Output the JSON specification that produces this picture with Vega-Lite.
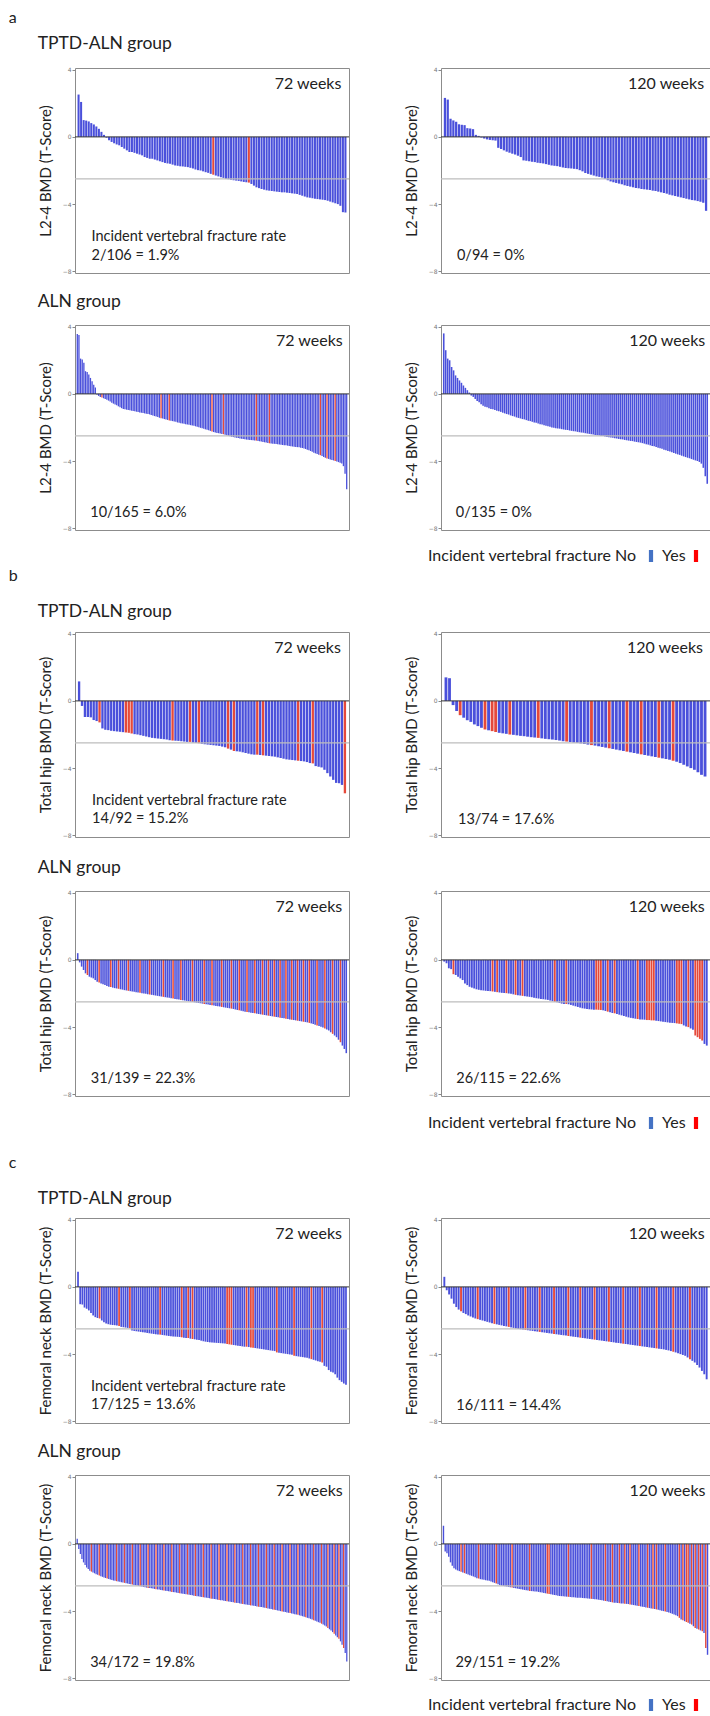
{
"$schema":"https://vega.github.io/schema/vega-lite/v6.json",
"background":"white",
"padding":{"left":8,"top":9,"right":0,"bottom":0},
"autosize":{"type":"pad"},
"spacing":2,
"config":{
"font":"Lato",
"view":{"stroke":"#8c8c8c","strokeWidth":1},
"axisY":{"labelFontSize":6,"labelColor":"#777","labelFont":"DejaVu Sans","tickColor":"#888","tickSize":3,"domain":false,"grid":false,"titleFontSize":15,"titleFontWeight":"normal","titleColor":"#222","titlePadding":9,"labelPadding":1,"titleFont":"Lato"},
"title":{"fontSize":17.5,"fontWeight":"normal","anchor":"start","color":"#222","font":"Lato","offset":12},
"text":{"font":"Lato","color":"#222"},
"legend":{"orient":"none","direction":"horizontal","titleOrient":"left","titleFontSize":16,"titleFontWeight":"normal","titleColor":"#222","titleFont":"Lato","titlePadding":6,"titleLimit":400,"labelFontSize":16,"labelColor":"#222","labelFont":"Lato","labelAlign":"left","labelOffset":3,"columnPadding":2,"symbolType":"M-0.35,-1H0.35V1H-0.35Z","symbolSize":144,"symbolOpacity":1,"symbolStrokeWidth":0}
},
"resolve":{"scale":{"x":"independent","color":"independent"},"legend":{"color":"independent"}},
"datasets":{
"one":[{}],
"a1":[{"i":1,"v":2.52},{"i":2,"v":2.08},{"i":3,"v":1.0},{"i":4,"v":0.97},{"i":5,"v":0.92},{"i":6,"v":0.82},{"i":7,"v":0.74},{"i":8,"v":0.62},{"i":9,"v":0.48},{"i":10,"v":0.3},{"i":11,"v":0.12},{"i":12,"v":-0.05},{"i":13,"v":-0.2},{"i":14,"v":-0.3},{"i":15,"v":-0.38},{"i":16,"v":-0.45},{"i":17,"v":-0.5},{"i":18,"v":-0.6},{"i":19,"v":-0.7},{"i":20,"v":-0.8},{"i":21,"v":-0.9},{"i":22,"v":-0.9},{"i":23,"v":-0.95},{"i":24,"v":-1.0},{"i":25,"v":-1.05},{"i":26,"v":-1.1},{"i":27,"v":-1.2},{"i":28,"v":-1.25},{"i":29,"v":-1.3},{"i":30,"v":-1.3},{"i":31,"v":-1.35},{"i":32,"v":-1.4},{"i":33,"v":-1.45},{"i":34,"v":-1.5},{"i":35,"v":-1.55},{"i":36,"v":-1.58},{"i":37,"v":-1.6},{"i":38,"v":-1.65},{"i":39,"v":-1.7},{"i":40,"v":-1.72},{"i":41,"v":-1.75},{"i":42,"v":-1.76},{"i":43,"v":-1.78},{"i":44,"v":-1.8},{"i":45,"v":-1.84},{"i":46,"v":-1.88},{"i":47,"v":-1.94},{"i":48,"v":-1.98},{"i":49,"v":-2.0},{"i":50,"v":-2.05},{"i":51,"v":-2.1},{"i":52,"v":-2.14},{"i":53,"v":-2.2},{"i":54,"v":-2.25,"f":1},{"i":55,"v":-2.3},{"i":56,"v":-2.35},{"i":57,"v":-2.4},{"i":58,"v":-2.44},{"i":59,"v":-2.5},{"i":60,"v":-2.52},{"i":61,"v":-2.55},{"i":62,"v":-2.58},{"i":63,"v":-2.6},{"i":64,"v":-2.62},{"i":65,"v":-2.65},{"i":66,"v":-2.68},{"i":67,"v":-2.7},{"i":68,"v":-2.72,"f":1},{"i":69,"v":-2.8},{"i":70,"v":-2.9},{"i":71,"v":-3.0},{"i":72,"v":-3.05},{"i":73,"v":-3.1},{"i":74,"v":-3.14},{"i":75,"v":-3.18},{"i":76,"v":-3.2},{"i":77,"v":-3.22},{"i":78,"v":-3.24},{"i":79,"v":-3.26},{"i":80,"v":-3.28},{"i":81,"v":-3.3},{"i":82,"v":-3.3},{"i":83,"v":-3.32},{"i":84,"v":-3.34},{"i":85,"v":-3.36},{"i":86,"v":-3.38},{"i":87,"v":-3.4},{"i":88,"v":-3.45},{"i":89,"v":-3.5},{"i":90,"v":-3.55},{"i":91,"v":-3.6},{"i":92,"v":-3.62},{"i":93,"v":-3.65},{"i":94,"v":-3.68},{"i":95,"v":-3.7},{"i":96,"v":-3.72},{"i":97,"v":-3.74},{"i":98,"v":-3.76},{"i":99,"v":-3.8},{"i":100,"v":-3.85},{"i":101,"v":-3.9},{"i":102,"v":-3.95},{"i":103,"v":-4.0},{"i":104,"v":-4.1},{"i":105,"v":-4.48},{"i":106,"v":-4.5}],
"a2":[{"i":1,"v":2.32},{"i":2,"v":2.22},{"i":3,"v":1.08},{"i":4,"v":0.98},{"i":5,"v":0.9},{"i":6,"v":0.75},{"i":7,"v":0.72},{"i":8,"v":0.7},{"i":9,"v":0.52},{"i":10,"v":0.5},{"i":11,"v":0.46},{"i":12,"v":0.12},{"i":13,"v":0.06},{"i":14,"v":-0.04},{"i":15,"v":-0.1},{"i":16,"v":-0.15},{"i":17,"v":-0.18},{"i":18,"v":-0.2},{"i":19,"v":-0.22},{"i":20,"v":-0.65},{"i":21,"v":-0.72},{"i":22,"v":-0.8},{"i":23,"v":-0.88},{"i":24,"v":-0.94},{"i":25,"v":-1.0},{"i":26,"v":-1.05},{"i":27,"v":-1.12},{"i":28,"v":-1.2},{"i":29,"v":-1.4},{"i":30,"v":-1.42},{"i":31,"v":-1.45},{"i":32,"v":-1.48},{"i":33,"v":-1.5},{"i":34,"v":-1.54},{"i":35,"v":-1.56},{"i":36,"v":-1.58},{"i":37,"v":-1.62},{"i":38,"v":-1.66},{"i":39,"v":-1.7},{"i":40,"v":-1.72},{"i":41,"v":-1.74},{"i":42,"v":-1.78},{"i":43,"v":-1.82},{"i":44,"v":-1.85},{"i":45,"v":-1.86},{"i":46,"v":-1.88},{"i":47,"v":-1.9},{"i":48,"v":-1.92},{"i":49,"v":-1.98},{"i":50,"v":-2.05},{"i":51,"v":-2.15},{"i":52,"v":-2.2},{"i":53,"v":-2.25},{"i":54,"v":-2.3},{"i":55,"v":-2.35},{"i":56,"v":-2.38},{"i":57,"v":-2.42},{"i":58,"v":-2.5},{"i":59,"v":-2.58},{"i":60,"v":-2.65},{"i":61,"v":-2.7},{"i":62,"v":-2.74},{"i":63,"v":-2.78},{"i":64,"v":-2.82},{"i":65,"v":-2.88},{"i":66,"v":-2.92},{"i":67,"v":-2.96},{"i":68,"v":-3.0},{"i":69,"v":-3.04},{"i":70,"v":-3.06},{"i":71,"v":-3.1},{"i":72,"v":-3.12},{"i":73,"v":-3.14},{"i":74,"v":-3.16},{"i":75,"v":-3.2},{"i":76,"v":-3.22},{"i":77,"v":-3.26},{"i":78,"v":-3.3},{"i":79,"v":-3.34},{"i":80,"v":-3.38},{"i":81,"v":-3.44},{"i":82,"v":-3.48},{"i":83,"v":-3.52},{"i":84,"v":-3.56},{"i":85,"v":-3.6},{"i":86,"v":-3.64},{"i":87,"v":-3.68},{"i":88,"v":-3.72},{"i":89,"v":-3.76},{"i":90,"v":-3.78},{"i":91,"v":-3.82},{"i":92,"v":-3.86},{"i":93,"v":-3.92},{"i":94,"v":-4.4}],
"a3":[{"i":1,"v":3.56},{"i":2,"v":3.5},{"i":3,"v":2.1},{"i":4,"v":2.05},{"i":5,"v":1.85},{"i":6,"v":1.35},{"i":7,"v":1.3},{"i":8,"v":1.15},{"i":9,"v":0.95},{"i":10,"v":0.75},{"i":11,"v":0.55},{"i":12,"v":0.38},{"i":13,"v":-0.05},{"i":14,"v":-0.12},{"i":15,"v":-0.18},{"i":16,"v":-0.22,"f":1},{"i":17,"v":-0.26},{"i":18,"v":-0.3},{"i":19,"v":-0.35},{"i":20,"v":-0.4},{"i":21,"v":-0.46},{"i":22,"v":-0.52},{"i":23,"v":-0.58},{"i":24,"v":-0.63},{"i":25,"v":-0.68},{"i":26,"v":-0.74},{"i":27,"v":-0.8},{"i":28,"v":-0.85},{"i":29,"v":-0.9},{"i":30,"v":-0.92},{"i":31,"v":-0.94},{"i":32,"v":-0.96},{"i":33,"v":-0.98},{"i":34,"v":-1.0},{"i":35,"v":-1.02},{"i":36,"v":-1.04},{"i":37,"v":-1.06},{"i":38,"v":-1.08},{"i":39,"v":-1.1},{"i":40,"v":-1.12},{"i":41,"v":-1.14},{"i":42,"v":-1.16},{"i":43,"v":-1.18},{"i":44,"v":-1.2},{"i":45,"v":-1.22},{"i":46,"v":-1.25},{"i":47,"v":-1.28},{"i":48,"v":-1.32},{"i":49,"v":-1.35},{"i":50,"v":-1.38},{"i":51,"v":-1.42},{"i":52,"v":-1.45,"f":1},{"i":53,"v":-1.47},{"i":54,"v":-1.5},{"i":55,"v":-1.52},{"i":56,"v":-1.55},{"i":57,"v":-1.58,"f":1},{"i":58,"v":-1.6},{"i":59,"v":-1.62},{"i":60,"v":-1.64},{"i":61,"v":-1.66},{"i":62,"v":-1.7},{"i":63,"v":-1.72},{"i":64,"v":-1.74},{"i":65,"v":-1.76},{"i":66,"v":-1.78},{"i":67,"v":-1.8},{"i":68,"v":-1.82},{"i":69,"v":-1.84},{"i":70,"v":-1.86},{"i":71,"v":-1.88},{"i":72,"v":-1.9},{"i":73,"v":-1.93},{"i":74,"v":-1.96},{"i":75,"v":-1.99},{"i":76,"v":-2.02},{"i":77,"v":-2.05},{"i":78,"v":-2.08},{"i":79,"v":-2.11},{"i":80,"v":-2.14},{"i":81,"v":-2.17},{"i":82,"v":-2.2},{"i":83,"v":-2.24,"f":1},{"i":84,"v":-2.27},{"i":85,"v":-2.3},{"i":86,"v":-2.32},{"i":87,"v":-2.34},{"i":88,"v":-2.36},{"i":89,"v":-2.38},{"i":90,"v":-2.4,"f":1},{"i":91,"v":-2.43},{"i":92,"v":-2.46},{"i":93,"v":-2.49},{"i":94,"v":-2.52},{"i":95,"v":-2.55},{"i":96,"v":-2.57},{"i":97,"v":-2.59},{"i":98,"v":-2.61},{"i":99,"v":-2.63},{"i":100,"v":-2.65},{"i":101,"v":-2.67},{"i":102,"v":-2.69},{"i":103,"v":-2.7},{"i":104,"v":-2.72},{"i":105,"v":-2.73},{"i":106,"v":-2.74},{"i":107,"v":-2.75},{"i":108,"v":-2.76},{"i":109,"v":-2.77},{"i":110,"v":-2.78,"f":1},{"i":111,"v":-2.8},{"i":112,"v":-2.82},{"i":113,"v":-2.84},{"i":114,"v":-2.86},{"i":115,"v":-2.88},{"i":116,"v":-2.9},{"i":117,"v":-2.92},{"i":118,"v":-2.94,"f":1},{"i":119,"v":-2.95},{"i":120,"v":-2.96},{"i":121,"v":-2.97},{"i":122,"v":-2.98},{"i":123,"v":-3.0},{"i":124,"v":-3.01},{"i":125,"v":-3.02},{"i":126,"v":-3.04},{"i":127,"v":-3.05},{"i":128,"v":-3.06},{"i":129,"v":-3.08},{"i":130,"v":-3.1},{"i":131,"v":-3.12},{"i":132,"v":-3.13},{"i":133,"v":-3.14},{"i":134,"v":-3.16},{"i":135,"v":-3.17},{"i":136,"v":-3.18},{"i":137,"v":-3.2},{"i":138,"v":-3.22},{"i":139,"v":-3.25},{"i":140,"v":-3.28},{"i":141,"v":-3.32},{"i":142,"v":-3.36},{"i":143,"v":-3.4},{"i":144,"v":-3.45},{"i":145,"v":-3.5},{"i":146,"v":-3.54},{"i":147,"v":-3.58},{"i":148,"v":-3.62},{"i":149,"v":-3.65,"f":1},{"i":150,"v":-3.7},{"i":151,"v":-3.75},{"i":152,"v":-3.8},{"i":153,"v":-3.84,"f":1},{"i":154,"v":-3.87},{"i":155,"v":-3.9},{"i":156,"v":-3.93},{"i":157,"v":-3.96},{"i":158,"v":-4.0,"f":1},{"i":159,"v":-4.03},{"i":160,"v":-4.06},{"i":161,"v":-4.1},{"i":162,"v":-4.14},{"i":163,"v":-4.3},{"i":164,"v":-4.75},{"i":165,"v":-5.68}],
"a4":[{"i":1,"v":3.6},{"i":2,"v":2.6},{"i":3,"v":2.1},{"i":4,"v":2.0},{"i":5,"v":1.6},{"i":6,"v":1.4},{"i":7,"v":1.1},{"i":8,"v":0.95},{"i":9,"v":0.8},{"i":10,"v":0.66},{"i":11,"v":0.5},{"i":12,"v":0.36},{"i":13,"v":0.22},{"i":14,"v":0.08},{"i":15,"v":-0.1},{"i":16,"v":-0.18},{"i":17,"v":-0.3},{"i":18,"v":-0.42},{"i":19,"v":-0.5},{"i":20,"v":-0.62},{"i":21,"v":-0.7},{"i":22,"v":-0.76},{"i":23,"v":-0.8},{"i":24,"v":-0.86},{"i":25,"v":-0.9},{"i":26,"v":-0.92},{"i":27,"v":-0.96},{"i":28,"v":-1.0},{"i":29,"v":-1.04},{"i":30,"v":-1.07},{"i":31,"v":-1.12},{"i":32,"v":-1.16},{"i":33,"v":-1.2},{"i":34,"v":-1.23},{"i":35,"v":-1.28},{"i":36,"v":-1.32},{"i":37,"v":-1.35},{"i":38,"v":-1.4},{"i":39,"v":-1.43},{"i":40,"v":-1.46},{"i":41,"v":-1.5},{"i":42,"v":-1.52},{"i":43,"v":-1.56},{"i":44,"v":-1.6},{"i":45,"v":-1.62},{"i":46,"v":-1.66},{"i":47,"v":-1.7},{"i":48,"v":-1.72},{"i":49,"v":-1.76},{"i":50,"v":-1.8},{"i":51,"v":-1.82},{"i":52,"v":-1.86},{"i":53,"v":-1.9},{"i":54,"v":-1.92},{"i":55,"v":-1.96},{"i":56,"v":-2.0},{"i":57,"v":-2.01},{"i":58,"v":-2.04},{"i":59,"v":-2.06},{"i":60,"v":-2.07},{"i":61,"v":-2.1},{"i":62,"v":-2.12},{"i":63,"v":-2.14},{"i":64,"v":-2.15},{"i":65,"v":-2.18},{"i":66,"v":-2.2},{"i":67,"v":-2.22},{"i":68,"v":-2.23},{"i":69,"v":-2.26},{"i":70,"v":-2.28},{"i":71,"v":-2.3},{"i":72,"v":-2.31},{"i":73,"v":-2.34},{"i":74,"v":-2.36},{"i":75,"v":-2.38},{"i":76,"v":-2.4},{"i":77,"v":-2.41},{"i":78,"v":-2.44},{"i":79,"v":-2.46},{"i":80,"v":-2.48},{"i":81,"v":-2.5},{"i":82,"v":-2.51},{"i":83,"v":-2.54},{"i":84,"v":-2.56},{"i":85,"v":-2.58},{"i":86,"v":-2.6},{"i":87,"v":-2.61},{"i":88,"v":-2.64},{"i":89,"v":-2.66},{"i":90,"v":-2.68},{"i":91,"v":-2.7},{"i":92,"v":-2.71},{"i":93,"v":-2.74},{"i":94,"v":-2.76},{"i":95,"v":-2.78},{"i":96,"v":-2.8},{"i":97,"v":-2.81},{"i":98,"v":-2.84},{"i":99,"v":-2.86},{"i":100,"v":-2.88},{"i":101,"v":-2.9},{"i":102,"v":-2.93},{"i":103,"v":-2.96},{"i":104,"v":-3.0},{"i":105,"v":-3.02},{"i":106,"v":-3.06},{"i":107,"v":-3.1},{"i":108,"v":-3.12},{"i":109,"v":-3.16},{"i":110,"v":-3.2},{"i":111,"v":-3.24},{"i":112,"v":-3.27},{"i":113,"v":-3.32},{"i":114,"v":-3.36},{"i":115,"v":-3.4},{"i":116,"v":-3.43},{"i":117,"v":-3.48},{"i":118,"v":-3.52},{"i":119,"v":-3.56},{"i":120,"v":-3.6},{"i":121,"v":-3.63},{"i":122,"v":-3.68},{"i":123,"v":-3.72},{"i":124,"v":-3.76},{"i":125,"v":-3.8},{"i":126,"v":-3.83},{"i":127,"v":-3.88},{"i":128,"v":-3.92},{"i":129,"v":-3.96},{"i":130,"v":-4.0},{"i":131,"v":-4.05},{"i":132,"v":-4.15},{"i":133,"v":-4.4},{"i":134,"v":-4.9},{"i":135,"v":-5.35}],
"b1":[{"i":1,"v":1.16},{"i":2,"v":-0.3},{"i":3,"v":-0.96},{"i":4,"v":-0.96},{"i":5,"v":-0.98},{"i":6,"v":-1.14},{"i":7,"v":-1.2},{"i":8,"v":-1.28,"f":1},{"i":9,"v":-1.64},{"i":10,"v":-1.72},{"i":11,"v":-1.74},{"i":12,"v":-1.78},{"i":13,"v":-1.8},{"i":14,"v":-1.82},{"i":15,"v":-1.84},{"i":16,"v":-1.86},{"i":17,"v":-1.88,"f":1},{"i":18,"v":-1.9,"f":1},{"i":19,"v":-1.94,"f":1},{"i":20,"v":-1.98},{"i":21,"v":-2.0},{"i":22,"v":-2.04},{"i":23,"v":-2.08},{"i":24,"v":-2.12},{"i":25,"v":-2.16},{"i":26,"v":-2.2},{"i":27,"v":-2.22},{"i":28,"v":-2.24},{"i":29,"v":-2.26},{"i":30,"v":-2.28},{"i":31,"v":-2.3},{"i":32,"v":-2.34},{"i":33,"v":-2.36,"f":1},{"i":34,"v":-2.37},{"i":35,"v":-2.38},{"i":36,"v":-2.4},{"i":37,"v":-2.42},{"i":38,"v":-2.44},{"i":39,"v":-2.44,"f":1},{"i":40,"v":-2.48},{"i":41,"v":-2.5},{"i":42,"v":-2.52,"f":1},{"i":43,"v":-2.55},{"i":44,"v":-2.58},{"i":45,"v":-2.6},{"i":46,"v":-2.62},{"i":47,"v":-2.64},{"i":48,"v":-2.66},{"i":49,"v":-2.68},{"i":50,"v":-2.72},{"i":51,"v":-2.76},{"i":52,"v":-2.84,"f":1},{"i":53,"v":-2.9},{"i":54,"v":-2.98,"f":1},{"i":55,"v":-3.0},{"i":56,"v":-3.02},{"i":57,"v":-3.06},{"i":58,"v":-3.1},{"i":59,"v":-3.14},{"i":60,"v":-3.18},{"i":61,"v":-3.2},{"i":62,"v":-3.2,"f":1},{"i":63,"v":-3.22},{"i":64,"v":-3.24,"f":1},{"i":65,"v":-3.26},{"i":66,"v":-3.28},{"i":67,"v":-3.3},{"i":68,"v":-3.32},{"i":69,"v":-3.36},{"i":70,"v":-3.4},{"i":71,"v":-3.44},{"i":72,"v":-3.48},{"i":73,"v":-3.5},{"i":74,"v":-3.52},{"i":75,"v":-3.54},{"i":76,"v":-3.56,"f":1},{"i":77,"v":-3.58},{"i":78,"v":-3.6},{"i":79,"v":-3.64},{"i":80,"v":-3.7},{"i":81,"v":-3.72,"f":1},{"i":82,"v":-3.88},{"i":83,"v":-3.92},{"i":84,"v":-3.96},{"i":85,"v":-4.1},{"i":86,"v":-4.3},{"i":87,"v":-4.5},{"i":88,"v":-4.7},{"i":89,"v":-4.88},{"i":90,"v":-4.9},{"i":91,"v":-5.0},{"i":92,"v":-5.5,"f":1}],
"b2":[{"i":1,"v":1.4},{"i":2,"v":1.35},{"i":3,"v":-0.25},{"i":4,"v":-0.6},{"i":5,"v":-0.85,"f":1},{"i":6,"v":-1.0},{"i":7,"v":-1.15},{"i":8,"v":-1.25},{"i":9,"v":-1.4},{"i":10,"v":-1.5},{"i":11,"v":-1.6},{"i":12,"v":-1.7,"f":1},{"i":13,"v":-1.75},{"i":14,"v":-1.8,"f":1},{"i":15,"v":-1.85,"f":1},{"i":16,"v":-1.9},{"i":17,"v":-1.93},{"i":18,"v":-1.96},{"i":19,"v":-2.0,"f":1},{"i":20,"v":-2.02},{"i":21,"v":-2.05},{"i":22,"v":-2.08},{"i":23,"v":-2.1},{"i":24,"v":-2.13},{"i":25,"v":-2.16},{"i":26,"v":-2.18},{"i":27,"v":-2.2,"f":1},{"i":28,"v":-2.23},{"i":29,"v":-2.26},{"i":30,"v":-2.28},{"i":31,"v":-2.3},{"i":32,"v":-2.33},{"i":33,"v":-2.36},{"i":34,"v":-2.4},{"i":35,"v":-2.42,"f":1},{"i":36,"v":-2.45},{"i":37,"v":-2.48},{"i":38,"v":-2.5},{"i":39,"v":-2.53},{"i":40,"v":-2.56},{"i":41,"v":-2.6},{"i":42,"v":-2.63,"f":1},{"i":43,"v":-2.66},{"i":44,"v":-2.7},{"i":45,"v":-2.74},{"i":46,"v":-2.78},{"i":47,"v":-2.82,"f":1},{"i":48,"v":-2.86},{"i":49,"v":-2.9},{"i":50,"v":-2.94},{"i":51,"v":-2.98},{"i":52,"v":-3.02,"f":1},{"i":53,"v":-3.06},{"i":54,"v":-3.1},{"i":55,"v":-3.14},{"i":56,"v":-3.18,"f":1},{"i":57,"v":-3.22},{"i":58,"v":-3.26},{"i":59,"v":-3.3},{"i":60,"v":-3.34},{"i":61,"v":-3.38,"f":1},{"i":62,"v":-3.42},{"i":63,"v":-3.46},{"i":64,"v":-3.5},{"i":65,"v":-3.56,"f":1},{"i":66,"v":-3.62},{"i":67,"v":-3.7},{"i":68,"v":-3.8},{"i":69,"v":-3.9},{"i":70,"v":-4.0},{"i":71,"v":-4.1},{"i":72,"v":-4.25},{"i":73,"v":-4.4},{"i":74,"v":-4.5}],
"b3":[{"i":1,"v":0.4},{"i":2,"v":-0.15},{"i":3,"v":-0.4},{"i":4,"v":-0.6},{"i":5,"v":-0.8},{"i":6,"v":-0.9,"f":1},{"i":7,"v":-1.0},{"i":8,"v":-1.05},{"i":9,"v":-1.1},{"i":10,"v":-1.2},{"i":11,"v":-1.3},{"i":12,"v":-1.35,"f":1},{"i":13,"v":-1.4},{"i":14,"v":-1.45},{"i":15,"v":-1.5},{"i":16,"v":-1.55},{"i":17,"v":-1.6},{"i":18,"v":-1.62,"f":1},{"i":19,"v":-1.65},{"i":20,"v":-1.68},{"i":21,"v":-1.7},{"i":22,"v":-1.72,"f":1},{"i":23,"v":-1.75},{"i":24,"v":-1.77},{"i":25,"v":-1.8},{"i":26,"v":-1.82},{"i":27,"v":-1.84,"f":1},{"i":28,"v":-1.86},{"i":29,"v":-1.88},{"i":30,"v":-1.9},{"i":31,"v":-1.92},{"i":32,"v":-1.94},{"i":33,"v":-1.96,"f":1},{"i":34,"v":-1.98},{"i":35,"v":-2.0},{"i":36,"v":-2.02},{"i":37,"v":-2.04},{"i":38,"v":-2.06,"f":1},{"i":39,"v":-2.08},{"i":40,"v":-2.1},{"i":41,"v":-2.12},{"i":42,"v":-2.14},{"i":43,"v":-2.16},{"i":44,"v":-2.18},{"i":45,"v":-2.2,"f":1},{"i":46,"v":-2.22},{"i":47,"v":-2.24},{"i":48,"v":-2.26},{"i":49,"v":-2.28},{"i":50,"v":-2.3,"f":1},{"i":51,"v":-2.32},{"i":52,"v":-2.34},{"i":53,"v":-2.36},{"i":54,"v":-2.38,"f":1},{"i":55,"v":-2.4},{"i":56,"v":-2.42},{"i":57,"v":-2.44},{"i":58,"v":-2.46},{"i":59,"v":-2.48},{"i":60,"v":-2.5,"f":1},{"i":61,"v":-2.52},{"i":62,"v":-2.54},{"i":63,"v":-2.56},{"i":64,"v":-2.58},{"i":65,"v":-2.6},{"i":66,"v":-2.62,"f":1},{"i":67,"v":-2.64},{"i":68,"v":-2.66},{"i":69,"v":-2.68},{"i":70,"v":-2.7,"f":1},{"i":71,"v":-2.72},{"i":72,"v":-2.74},{"i":73,"v":-2.76},{"i":74,"v":-2.78},{"i":75,"v":-2.8,"f":1},{"i":76,"v":-2.82},{"i":77,"v":-2.84},{"i":78,"v":-2.86},{"i":79,"v":-2.88},{"i":80,"v":-2.9,"f":1},{"i":81,"v":-2.92},{"i":82,"v":-2.95},{"i":83,"v":-2.98},{"i":84,"v":-3.0,"f":1},{"i":85,"v":-3.02},{"i":86,"v":-3.05},{"i":87,"v":-3.08},{"i":88,"v":-3.1,"f":1},{"i":89,"v":-3.12},{"i":90,"v":-3.14},{"i":91,"v":-3.16},{"i":92,"v":-3.18,"f":1},{"i":93,"v":-3.2},{"i":94,"v":-3.22},{"i":95,"v":-3.24},{"i":96,"v":-3.26,"f":1},{"i":97,"v":-3.28},{"i":98,"v":-3.3},{"i":99,"v":-3.32,"f":1},{"i":100,"v":-3.34},{"i":101,"v":-3.36},{"i":102,"v":-3.38,"f":1},{"i":103,"v":-3.4},{"i":104,"v":-3.42},{"i":105,"v":-3.44,"f":1},{"i":106,"v":-3.46},{"i":107,"v":-3.48},{"i":108,"v":-3.5,"f":1},{"i":109,"v":-3.52},{"i":110,"v":-3.54},{"i":111,"v":-3.56,"f":1},{"i":112,"v":-3.58},{"i":113,"v":-3.6},{"i":114,"v":-3.62,"f":1},{"i":115,"v":-3.64},{"i":116,"v":-3.66},{"i":117,"v":-3.68,"f":1},{"i":118,"v":-3.7},{"i":119,"v":-3.72},{"i":120,"v":-3.75,"f":1},{"i":121,"v":-3.78},{"i":122,"v":-3.82},{"i":123,"v":-3.86},{"i":124,"v":-3.9,"f":1},{"i":125,"v":-3.94},{"i":126,"v":-3.98},{"i":127,"v":-4.02},{"i":128,"v":-4.08,"f":1},{"i":129,"v":-4.14},{"i":130,"v":-4.2},{"i":131,"v":-4.3},{"i":132,"v":-4.4,"f":1},{"i":133,"v":-4.5},{"i":134,"v":-4.6},{"i":135,"v":-4.75},{"i":136,"v":-4.9,"f":1},{"i":137,"v":-5.1},{"i":138,"v":-5.3},{"i":139,"v":-5.55}],
"b4":[{"i":1,"v":-0.1},{"i":2,"v":-0.2},{"i":3,"v":-0.5},{"i":4,"v":-0.55},{"i":5,"v":-0.85,"f":1},{"i":6,"v":-0.9},{"i":7,"v":-1.0},{"i":8,"v":-1.1},{"i":9,"v":-1.2},{"i":10,"v":-1.4},{"i":11,"v":-1.5},{"i":12,"v":-1.6},{"i":13,"v":-1.65},{"i":14,"v":-1.7},{"i":15,"v":-1.75},{"i":16,"v":-1.78},{"i":17,"v":-1.8},{"i":18,"v":-1.82},{"i":19,"v":-1.84},{"i":20,"v":-1.85},{"i":21,"v":-1.86},{"i":22,"v":-1.88,"f":1},{"i":23,"v":-1.9},{"i":24,"v":-1.92,"f":1},{"i":25,"v":-1.94},{"i":26,"v":-1.96},{"i":27,"v":-1.97},{"i":28,"v":-1.98,"f":1},{"i":29,"v":-2.0},{"i":30,"v":-2.02},{"i":31,"v":-2.05},{"i":32,"v":-2.08,"f":1},{"i":33,"v":-2.1},{"i":34,"v":-2.12},{"i":35,"v":-2.14,"f":1},{"i":36,"v":-2.16},{"i":37,"v":-2.18},{"i":38,"v":-2.2},{"i":39,"v":-2.22},{"i":40,"v":-2.25},{"i":41,"v":-2.28},{"i":42,"v":-2.3},{"i":43,"v":-2.32},{"i":44,"v":-2.34},{"i":45,"v":-2.36},{"i":46,"v":-2.38},{"i":47,"v":-2.42},{"i":48,"v":-2.46},{"i":49,"v":-2.5,"f":1},{"i":50,"v":-2.52},{"i":51,"v":-2.56},{"i":52,"v":-2.6},{"i":53,"v":-2.62},{"i":54,"v":-2.62,"f":1},{"i":55,"v":-2.64},{"i":56,"v":-2.68},{"i":57,"v":-2.72},{"i":58,"v":-2.76},{"i":59,"v":-2.8},{"i":60,"v":-2.84},{"i":61,"v":-2.88},{"i":62,"v":-2.9},{"i":63,"v":-2.92},{"i":64,"v":-2.94},{"i":65,"v":-2.95},{"i":66,"v":-2.96},{"i":67,"v":-2.96,"f":1},{"i":68,"v":-2.97,"f":1},{"i":69,"v":-2.98,"f":1},{"i":70,"v":-3.0},{"i":71,"v":-3.04},{"i":72,"v":-3.08,"f":1},{"i":73,"v":-3.12},{"i":74,"v":-3.16},{"i":75,"v":-3.18,"f":1},{"i":76,"v":-3.22},{"i":77,"v":-3.26},{"i":78,"v":-3.3},{"i":79,"v":-3.34},{"i":80,"v":-3.38},{"i":81,"v":-3.42},{"i":82,"v":-3.45},{"i":83,"v":-3.48},{"i":84,"v":-3.5},{"i":85,"v":-3.52,"f":1},{"i":86,"v":-3.54},{"i":87,"v":-3.55},{"i":88,"v":-3.56},{"i":89,"v":-3.58,"f":1},{"i":90,"v":-3.58,"f":1},{"i":91,"v":-3.6,"f":1},{"i":92,"v":-3.6,"f":1},{"i":93,"v":-3.62},{"i":94,"v":-3.64},{"i":95,"v":-3.66},{"i":96,"v":-3.68},{"i":97,"v":-3.7},{"i":98,"v":-3.72},{"i":99,"v":-3.74},{"i":100,"v":-3.75},{"i":101,"v":-3.76},{"i":102,"v":-3.78,"f":1},{"i":103,"v":-3.8,"f":1},{"i":104,"v":-3.82,"f":1},{"i":105,"v":-3.9},{"i":106,"v":-3.96},{"i":107,"v":-4.0,"f":1},{"i":108,"v":-4.08},{"i":109,"v":-4.16},{"i":110,"v":-4.5,"f":1},{"i":111,"v":-4.6,"f":1},{"i":112,"v":-4.7,"f":1},{"i":113,"v":-4.8,"f":1},{"i":114,"v":-5.0},{"i":115,"v":-5.1}],
"c1":[{"i":1,"v":0.9},{"i":2,"v":-1.03},{"i":3,"v":-1.05},{"i":4,"v":-1.23},{"i":5,"v":-1.3},{"i":6,"v":-1.4},{"i":7,"v":-1.55},{"i":8,"v":-1.7},{"i":9,"v":-1.8},{"i":10,"v":-1.85},{"i":11,"v":-1.88,"f":1},{"i":12,"v":-2.0},{"i":13,"v":-2.1},{"i":14,"v":-2.18},{"i":15,"v":-2.22},{"i":16,"v":-2.25},{"i":17,"v":-2.27},{"i":18,"v":-2.28},{"i":19,"v":-2.3},{"i":20,"v":-2.32,"f":1},{"i":21,"v":-2.38},{"i":22,"v":-2.4},{"i":23,"v":-2.42},{"i":24,"v":-2.44},{"i":25,"v":-2.46,"f":1},{"i":26,"v":-2.6},{"i":27,"v":-2.62},{"i":28,"v":-2.64},{"i":29,"v":-2.66},{"i":30,"v":-2.68},{"i":31,"v":-2.7},{"i":32,"v":-2.72},{"i":33,"v":-2.74},{"i":34,"v":-2.76},{"i":35,"v":-2.78},{"i":36,"v":-2.8},{"i":37,"v":-2.82},{"i":38,"v":-2.84},{"i":39,"v":-2.84,"f":1},{"i":40,"v":-2.86},{"i":41,"v":-2.88},{"i":42,"v":-2.9},{"i":43,"v":-2.92},{"i":44,"v":-2.94},{"i":45,"v":-2.95},{"i":46,"v":-2.96},{"i":47,"v":-2.97},{"i":48,"v":-2.98},{"i":49,"v":-3.0,"f":1},{"i":50,"v":-3.02},{"i":51,"v":-3.04},{"i":52,"v":-3.04,"f":1},{"i":53,"v":-3.08},{"i":54,"v":-3.1,"f":1},{"i":55,"v":-3.12},{"i":56,"v":-3.14},{"i":57,"v":-3.16},{"i":58,"v":-3.2},{"i":59,"v":-3.24},{"i":60,"v":-3.26},{"i":61,"v":-3.28},{"i":62,"v":-3.3},{"i":63,"v":-3.31},{"i":64,"v":-3.32},{"i":65,"v":-3.33},{"i":66,"v":-3.34},{"i":67,"v":-3.35},{"i":68,"v":-3.36},{"i":69,"v":-3.37},{"i":70,"v":-3.4,"f":1},{"i":71,"v":-3.42,"f":1},{"i":72,"v":-3.44,"f":1},{"i":73,"v":-3.46},{"i":74,"v":-3.48},{"i":75,"v":-3.5},{"i":76,"v":-3.52},{"i":77,"v":-3.54},{"i":78,"v":-3.56},{"i":79,"v":-3.56,"f":1},{"i":80,"v":-3.58},{"i":81,"v":-3.6,"f":1},{"i":82,"v":-3.62,"f":1},{"i":83,"v":-3.64},{"i":84,"v":-3.66},{"i":85,"v":-3.68},{"i":86,"v":-3.7},{"i":87,"v":-3.72},{"i":88,"v":-3.74},{"i":89,"v":-3.76},{"i":90,"v":-3.78},{"i":91,"v":-3.8},{"i":92,"v":-3.82},{"i":93,"v":-3.9,"f":1},{"i":94,"v":-3.92},{"i":95,"v":-3.94},{"i":96,"v":-3.96},{"i":97,"v":-3.98},{"i":98,"v":-4.0},{"i":99,"v":-4.02},{"i":100,"v":-4.04},{"i":101,"v":-4.1,"f":1},{"i":102,"v":-4.12},{"i":103,"v":-4.14},{"i":104,"v":-4.16},{"i":105,"v":-4.18},{"i":106,"v":-4.2},{"i":107,"v":-4.22},{"i":108,"v":-4.26},{"i":109,"v":-4.3,"f":1},{"i":110,"v":-4.34},{"i":111,"v":-4.38},{"i":112,"v":-4.42},{"i":113,"v":-4.46},{"i":114,"v":-4.5,"f":1},{"i":115,"v":-4.7},{"i":116,"v":-4.75},{"i":117,"v":-4.95},{"i":118,"v":-5.05},{"i":119,"v":-5.1},{"i":120,"v":-5.2},{"i":121,"v":-5.4},{"i":122,"v":-5.55},{"i":123,"v":-5.65},{"i":124,"v":-5.75},{"i":125,"v":-5.82}],
"c2":[{"i":1,"v":0.6},{"i":2,"v":-0.2},{"i":3,"v":-0.45},{"i":4,"v":-0.7},{"i":5,"v":-1.0},{"i":6,"v":-1.2},{"i":7,"v":-1.35},{"i":8,"v":-1.45,"f":1},{"i":9,"v":-1.55},{"i":10,"v":-1.62},{"i":11,"v":-1.7},{"i":12,"v":-1.76},{"i":13,"v":-1.82},{"i":14,"v":-1.88},{"i":15,"v":-1.92,"f":1},{"i":16,"v":-1.96},{"i":17,"v":-2.0},{"i":18,"v":-2.04},{"i":19,"v":-2.08},{"i":20,"v":-2.12},{"i":21,"v":-2.16},{"i":22,"v":-2.2,"f":1},{"i":23,"v":-2.23},{"i":24,"v":-2.26},{"i":25,"v":-2.29},{"i":26,"v":-2.32},{"i":27,"v":-2.35},{"i":28,"v":-2.38,"f":1},{"i":29,"v":-2.41},{"i":30,"v":-2.44},{"i":31,"v":-2.47},{"i":32,"v":-2.5},{"i":33,"v":-2.52},{"i":34,"v":-2.54},{"i":35,"v":-2.56,"f":1},{"i":36,"v":-2.58},{"i":37,"v":-2.6},{"i":38,"v":-2.62},{"i":39,"v":-2.64},{"i":40,"v":-2.66},{"i":41,"v":-2.68,"f":1},{"i":42,"v":-2.7},{"i":43,"v":-2.72},{"i":44,"v":-2.74},{"i":45,"v":-2.76},{"i":46,"v":-2.78},{"i":47,"v":-2.8,"f":1},{"i":48,"v":-2.82},{"i":49,"v":-2.84},{"i":50,"v":-2.86},{"i":51,"v":-2.88},{"i":52,"v":-2.9},{"i":53,"v":-2.92,"f":1},{"i":54,"v":-2.94},{"i":55,"v":-2.96},{"i":56,"v":-2.98},{"i":57,"v":-3.0},{"i":58,"v":-3.02,"f":1},{"i":59,"v":-3.04},{"i":60,"v":-3.06},{"i":61,"v":-3.08},{"i":62,"v":-3.1},{"i":63,"v":-3.12},{"i":64,"v":-3.14,"f":1},{"i":65,"v":-3.16},{"i":66,"v":-3.18},{"i":67,"v":-3.2},{"i":68,"v":-3.22},{"i":69,"v":-3.24},{"i":70,"v":-3.26,"f":1},{"i":71,"v":-3.28},{"i":72,"v":-3.3},{"i":73,"v":-3.32},{"i":74,"v":-3.34},{"i":75,"v":-3.36},{"i":76,"v":-3.38,"f":1},{"i":77,"v":-3.4},{"i":78,"v":-3.42},{"i":79,"v":-3.44},{"i":80,"v":-3.46},{"i":81,"v":-3.48},{"i":82,"v":-3.5},{"i":83,"v":-3.52,"f":1},{"i":84,"v":-3.54},{"i":85,"v":-3.56},{"i":86,"v":-3.58},{"i":87,"v":-3.6},{"i":88,"v":-3.62},{"i":89,"v":-3.64},{"i":90,"v":-3.66,"f":1},{"i":91,"v":-3.68},{"i":92,"v":-3.7},{"i":93,"v":-3.72},{"i":94,"v":-3.75},{"i":95,"v":-3.78},{"i":96,"v":-3.82},{"i":97,"v":-3.86,"f":1},{"i":98,"v":-3.9},{"i":99,"v":-3.95},{"i":100,"v":-4.0},{"i":101,"v":-4.05},{"i":102,"v":-4.1},{"i":103,"v":-4.2},{"i":104,"v":-4.3,"f":1},{"i":105,"v":-4.4},{"i":106,"v":-4.5},{"i":107,"v":-4.65},{"i":108,"v":-4.8},{"i":109,"v":-5.0},{"i":110,"v":-5.2},{"i":111,"v":-5.5}],
"c3":[{"i":1,"v":0.3},{"i":2,"v":-0.3},{"i":3,"v":-0.6},{"i":4,"v":-0.9},{"i":5,"v":-1.1},{"i":6,"v":-1.25},{"i":7,"v":-1.4},{"i":8,"v":-1.5},{"i":9,"v":-1.6},{"i":10,"v":-1.65,"f":1},{"i":11,"v":-1.7},{"i":12,"v":-1.75},{"i":13,"v":-1.8},{"i":14,"v":-1.84},{"i":15,"v":-1.88,"f":1},{"i":16,"v":-1.92},{"i":17,"v":-1.96},{"i":18,"v":-2.0},{"i":19,"v":-2.03},{"i":20,"v":-2.06,"f":1},{"i":21,"v":-2.09},{"i":22,"v":-2.12},{"i":23,"v":-2.15},{"i":24,"v":-2.18},{"i":25,"v":-2.2},{"i":26,"v":-2.22,"f":1},{"i":27,"v":-2.24},{"i":28,"v":-2.26},{"i":29,"v":-2.28},{"i":30,"v":-2.3},{"i":31,"v":-2.32,"f":1},{"i":32,"v":-2.34},{"i":33,"v":-2.36},{"i":34,"v":-2.38},{"i":35,"v":-2.4},{"i":36,"v":-2.42,"f":1},{"i":37,"v":-2.44},{"i":38,"v":-2.46},{"i":39,"v":-2.48},{"i":40,"v":-2.5},{"i":41,"v":-2.52,"f":1},{"i":42,"v":-2.54},{"i":43,"v":-2.56},{"i":44,"v":-2.58},{"i":45,"v":-2.6},{"i":46,"v":-2.62,"f":1},{"i":47,"v":-2.63},{"i":48,"v":-2.64},{"i":49,"v":-2.66},{"i":50,"v":-2.68},{"i":51,"v":-2.7,"f":1},{"i":52,"v":-2.71},{"i":53,"v":-2.72},{"i":54,"v":-2.74},{"i":55,"v":-2.76},{"i":56,"v":-2.78,"f":1},{"i":57,"v":-2.79},{"i":58,"v":-2.8},{"i":59,"v":-2.82},{"i":60,"v":-2.84},{"i":61,"v":-2.86,"f":1},{"i":62,"v":-2.87},{"i":63,"v":-2.88},{"i":64,"v":-2.9},{"i":65,"v":-2.92},{"i":66,"v":-2.94,"f":1},{"i":67,"v":-2.95},{"i":68,"v":-2.96},{"i":69,"v":-2.98},{"i":70,"v":-3.0},{"i":71,"v":-3.01,"f":1},{"i":72,"v":-3.02},{"i":73,"v":-3.04},{"i":74,"v":-3.06},{"i":75,"v":-3.08},{"i":76,"v":-3.1,"f":1},{"i":77,"v":-3.11},{"i":78,"v":-3.12},{"i":79,"v":-3.14},{"i":80,"v":-3.16},{"i":81,"v":-3.18,"f":1},{"i":82,"v":-3.19},{"i":83,"v":-3.2},{"i":84,"v":-3.22},{"i":85,"v":-3.24},{"i":86,"v":-3.26,"f":1},{"i":87,"v":-3.27},{"i":88,"v":-3.28},{"i":89,"v":-3.3},{"i":90,"v":-3.32},{"i":91,"v":-3.34,"f":1},{"i":92,"v":-3.35},{"i":93,"v":-3.36},{"i":94,"v":-3.38},{"i":95,"v":-3.4},{"i":96,"v":-3.42,"f":1},{"i":97,"v":-3.43},{"i":98,"v":-3.44},{"i":99,"v":-3.46},{"i":100,"v":-3.48},{"i":101,"v":-3.5,"f":1},{"i":102,"v":-3.51},{"i":103,"v":-3.52},{"i":104,"v":-3.54},{"i":105,"v":-3.56},{"i":106,"v":-3.58,"f":1},{"i":107,"v":-3.59},{"i":108,"v":-3.6},{"i":109,"v":-3.62},{"i":110,"v":-3.64},{"i":111,"v":-3.66,"f":1},{"i":112,"v":-3.67},{"i":113,"v":-3.68},{"i":114,"v":-3.7},{"i":115,"v":-3.72},{"i":116,"v":-3.74,"f":1},{"i":117,"v":-3.75},{"i":118,"v":-3.76},{"i":119,"v":-3.78},{"i":120,"v":-3.8},{"i":121,"v":-3.82,"f":1},{"i":122,"v":-3.84},{"i":123,"v":-3.86},{"i":124,"v":-3.88},{"i":125,"v":-3.9},{"i":126,"v":-3.92,"f":1},{"i":127,"v":-3.94},{"i":128,"v":-3.96},{"i":129,"v":-3.98},{"i":130,"v":-4.0},{"i":131,"v":-4.02,"f":1},{"i":132,"v":-4.04},{"i":133,"v":-4.06},{"i":134,"v":-4.08},{"i":135,"v":-4.1},{"i":136,"v":-4.12,"f":1},{"i":137,"v":-4.14},{"i":138,"v":-4.16},{"i":139,"v":-4.18},{"i":140,"v":-4.2},{"i":141,"v":-4.22,"f":1},{"i":142,"v":-4.25},{"i":143,"v":-4.28},{"i":144,"v":-4.31},{"i":145,"v":-4.34},{"i":146,"v":-4.37,"f":1},{"i":147,"v":-4.4},{"i":148,"v":-4.43},{"i":149,"v":-4.46},{"i":150,"v":-4.5},{"i":151,"v":-4.54,"f":1},{"i":152,"v":-4.58},{"i":153,"v":-4.62},{"i":154,"v":-4.66},{"i":155,"v":-4.7},{"i":156,"v":-4.75,"f":1},{"i":157,"v":-4.8},{"i":158,"v":-4.86},{"i":159,"v":-4.92},{"i":160,"v":-5.0,"f":1},{"i":161,"v":-5.08},{"i":162,"v":-5.16},{"i":163,"v":-5.25},{"i":164,"v":-5.35,"f":1},{"i":165,"v":-5.45},{"i":166,"v":-5.55},{"i":167,"v":-5.65,"f":1},{"i":168,"v":-5.8},{"i":169,"v":-6.0},{"i":170,"v":-6.2,"f":1},{"i":171,"v":-6.5},{"i":172,"v":-7.0}],
"c4":[{"i":1,"v":1.08},{"i":2,"v":-0.46},{"i":3,"v":-0.55},{"i":4,"v":-0.76},{"i":5,"v":-1.1},{"i":6,"v":-1.3},{"i":7,"v":-1.45},{"i":8,"v":-1.52},{"i":9,"v":-1.58},{"i":10,"v":-1.62},{"i":11,"v":-1.66,"f":1},{"i":12,"v":-1.7},{"i":13,"v":-1.74,"f":1},{"i":14,"v":-1.78},{"i":15,"v":-1.82},{"i":16,"v":-1.86},{"i":17,"v":-1.9},{"i":18,"v":-1.94},{"i":19,"v":-1.98},{"i":20,"v":-2.04},{"i":21,"v":-2.06,"f":1},{"i":22,"v":-2.1},{"i":23,"v":-2.12},{"i":24,"v":-2.14},{"i":25,"v":-2.16},{"i":26,"v":-2.18},{"i":27,"v":-2.2},{"i":28,"v":-2.24},{"i":29,"v":-2.28},{"i":30,"v":-2.32},{"i":31,"v":-2.36,"f":1},{"i":32,"v":-2.4},{"i":33,"v":-2.44},{"i":34,"v":-2.48},{"i":35,"v":-2.5},{"i":36,"v":-2.52},{"i":37,"v":-2.54},{"i":38,"v":-2.56},{"i":39,"v":-2.58},{"i":40,"v":-2.6,"f":1},{"i":41,"v":-2.62},{"i":42,"v":-2.64},{"i":43,"v":-2.66},{"i":44,"v":-2.68},{"i":45,"v":-2.7},{"i":46,"v":-2.72},{"i":47,"v":-2.74},{"i":48,"v":-2.76},{"i":49,"v":-2.78},{"i":50,"v":-2.8,"f":1},{"i":51,"v":-2.81},{"i":52,"v":-2.82},{"i":53,"v":-2.83},{"i":54,"v":-2.84},{"i":55,"v":-2.86},{"i":56,"v":-2.88},{"i":57,"v":-2.9},{"i":58,"v":-2.92},{"i":59,"v":-2.94},{"i":60,"v":-2.96,"f":1},{"i":61,"v":-2.98,"f":1},{"i":62,"v":-3.0},{"i":63,"v":-3.02},{"i":64,"v":-3.04},{"i":65,"v":-3.06},{"i":66,"v":-3.08},{"i":67,"v":-3.1},{"i":68,"v":-3.11},{"i":69,"v":-3.12},{"i":70,"v":-3.13},{"i":71,"v":-3.14},{"i":72,"v":-3.15,"f":1},{"i":73,"v":-3.16},{"i":74,"v":-3.17},{"i":75,"v":-3.18},{"i":76,"v":-3.19},{"i":77,"v":-3.2},{"i":78,"v":-3.2},{"i":79,"v":-3.21},{"i":80,"v":-3.22},{"i":81,"v":-3.23},{"i":82,"v":-3.24},{"i":83,"v":-3.25},{"i":84,"v":-3.26},{"i":85,"v":-3.27,"f":1},{"i":86,"v":-3.28},{"i":87,"v":-3.29},{"i":88,"v":-3.3},{"i":89,"v":-3.32},{"i":90,"v":-3.34},{"i":91,"v":-3.36},{"i":92,"v":-3.38},{"i":93,"v":-3.4,"f":1},{"i":94,"v":-3.42},{"i":95,"v":-3.44},{"i":96,"v":-3.46},{"i":97,"v":-3.48,"f":1},{"i":98,"v":-3.5},{"i":99,"v":-3.51},{"i":100,"v":-3.52},{"i":101,"v":-3.53,"f":1},{"i":102,"v":-3.54},{"i":103,"v":-3.55},{"i":104,"v":-3.56,"f":1},{"i":105,"v":-3.57},{"i":106,"v":-3.58},{"i":107,"v":-3.6,"f":1},{"i":108,"v":-3.62},{"i":109,"v":-3.64},{"i":110,"v":-3.66},{"i":111,"v":-3.68},{"i":112,"v":-3.7,"f":1},{"i":113,"v":-3.72},{"i":114,"v":-3.74},{"i":115,"v":-3.76},{"i":116,"v":-3.78},{"i":117,"v":-3.8,"f":1},{"i":118,"v":-3.82},{"i":119,"v":-3.84},{"i":120,"v":-3.86,"f":1},{"i":121,"v":-3.88},{"i":122,"v":-3.9,"f":1},{"i":123,"v":-3.92},{"i":124,"v":-3.95},{"i":125,"v":-3.98},{"i":126,"v":-4.0},{"i":127,"v":-4.02,"f":1},{"i":128,"v":-4.05},{"i":129,"v":-4.08},{"i":130,"v":-4.12},{"i":131,"v":-4.16},{"i":132,"v":-4.2},{"i":133,"v":-4.25},{"i":134,"v":-4.3},{"i":135,"v":-4.4,"f":1},{"i":136,"v":-4.5},{"i":137,"v":-4.55,"f":1},{"i":138,"v":-4.6},{"i":139,"v":-4.65,"f":1},{"i":140,"v":-4.7,"f":1},{"i":141,"v":-4.75},{"i":142,"v":-4.8,"f":1},{"i":143,"v":-4.9},{"i":144,"v":-5.0,"f":1},{"i":145,"v":-5.05},{"i":146,"v":-5.1,"f":1},{"i":147,"v":-5.15},{"i":148,"v":-5.2,"f":1},{"i":149,"v":-5.3},{"i":150,"v":-6.2,"f":1},{"i":151,"v":-6.6}]
},
"vconcat":[
{"title":{"text":"a","fontSize":16,"dx":-29,"offset":9},"spacing":17,"resolve":{"scale":{"x":"independent","color":"independent"},"legend":{"color":"independent"}},
"vconcat":[
{"title":{"text":"TPTD-ALN group","offset":14},"spacing":52,"resolve":{"scale":{"x":"independent","color":"independent"},"legend":{"color":"independent"}},"hconcat":[
{"width":274,"height":205,"layer":[
{"data":{"name":"a1"},"mark":"bar","encoding":{"x":{"field":"i","type":"ordinal","axis":null,"scale":{"paddingInner":0.2,"paddingOuter":2}},"y":{"field":"v","type":"quantitative","scale":{"domain":[-8.1,4.1],"nice":false},"axis":{"title":"L2-4 BMD (T-Score)","values":[-8,-6,-4,-2,0,2,4]}},"color":{"condition":{"test":"datum.f==1","value":"#e5493a"},"value":"#4a50db"}}},
{"data":{"name":"one"},"mark":{"type":"rule","color":"#bdbdbd","strokeWidth":1.2},"encoding":{"y":{"datum":-2.5}}},
{"data":{"name":"one"},"mark":{"type":"rule","color":"#333","strokeWidth":1},"encoding":{"y":{"datum":0}}},
{"data":{"name":"one"},"mark":{"type":"text","align":"right","baseline":"alphabetic","fontSize":16,"dx":-4},"encoding":{"x":{"datum":106,"type":"ordinal"},"y":{"datum":2.85},"text":{"value":"72 weeks"}}},
{"data":{"name":"one"},"mark":{"type":"text","align":"left","baseline":"middle","fontSize":14.5,"dx":13},"encoding":{"x":{"datum":1,"type":"ordinal"},"y":{"datum":-5.95},"text":{"value":"Incident vertebral fracture rate"}}},
{"data":{"name":"one"},"mark":{"type":"text","align":"left","baseline":"middle","fontSize":14.5,"dx":13},"encoding":{"x":{"datum":1,"type":"ordinal"},"y":{"datum":-7.1},"text":{"value":"2/106 = 1.9%"}}}
]},
{"width":269,"height":205,"layer":[
{"data":{"name":"a2"},"mark":"bar","encoding":{"x":{"field":"i","type":"ordinal","axis":null,"scale":{"paddingInner":0.2,"paddingOuter":1.3}},"y":{"field":"v","type":"quantitative","scale":{"domain":[-8.1,4.1],"nice":false},"axis":{"title":"L2-4 BMD (T-Score)","values":[-8,-6,-4,-2,0,2,4]}},"color":{"condition":{"test":"datum.f==1","value":"#e5493a"},"value":"#4a50db"}}},
{"data":{"name":"one"},"mark":{"type":"rule","color":"#bdbdbd","strokeWidth":1.2},"encoding":{"y":{"datum":-2.5}}},
{"data":{"name":"one"},"mark":{"type":"rule","color":"#333","strokeWidth":1},"encoding":{"y":{"datum":0}}},
{"data":{"name":"one"},"mark":{"type":"text","align":"right","baseline":"alphabetic","fontSize":16,"dx":-2},"encoding":{"x":{"datum":94,"type":"ordinal"},"y":{"datum":2.85},"text":{"value":"120 weeks"}}},
{"data":{"name":"one"},"mark":{"type":"text","align":"left","baseline":"middle","fontSize":14.5,"dx":12},"encoding":{"x":{"datum":1,"type":"ordinal"},"y":{"datum":-7.1},"text":{"value":"0/94 = 0%"}}}
]}
]},
{"title":{"text":"ALN group","offset":13},"spacing":52,"resolve":{"scale":{"x":"independent","color":"independent"},"legend":{"color":"independent"}},"hconcat":[
{"width":274,"height":205,"layer":[
{"data":{"name":"a3"},"mark":"bar","encoding":{"x":{"field":"i","type":"ordinal","axis":null,"scale":{"paddingInner":0.2,"paddingOuter":3.1}},"y":{"field":"v","type":"quantitative","scale":{"domain":[-8.1,4.1],"nice":false},"axis":{"title":"L2-4 BMD (T-Score)","values":[-8,-6,-4,-2,0,2,4]}},"color":{"condition":{"test":"datum.f==1","value":"#e5493a"},"value":"#4a50db"}}},
{"data":{"name":"one"},"mark":{"type":"rule","color":"#bdbdbd","strokeWidth":1.2},"encoding":{"y":{"datum":-2.5}}},
{"data":{"name":"one"},"mark":{"type":"rule","color":"#333","strokeWidth":1},"encoding":{"y":{"datum":0}}},
{"data":{"name":"one"},"mark":{"type":"text","align":"right","baseline":"alphabetic","fontSize":16,"dx":-4},"encoding":{"x":{"datum":165,"type":"ordinal"},"y":{"datum":2.85},"text":{"value":"72 weeks"}}},
{"data":{"name":"one"},"mark":{"type":"text","align":"left","baseline":"middle","fontSize":14.5,"dx":13},"encoding":{"x":{"datum":1,"type":"ordinal"},"y":{"datum":-7.1},"text":{"value":"10/165 = 6.0%"}}}
]},
{"width":269,"height":205,"layer":[
{"data":{"name":"a4"},"mark":"bar","encoding":{"x":{"field":"i","type":"ordinal","axis":null,"scale":{"paddingInner":0.2,"paddingOuter":1.5}},"y":{"field":"v","type":"quantitative","scale":{"domain":[-8.1,4.1],"nice":false},"axis":{"title":"L2-4 BMD (T-Score)","values":[-8,-6,-4,-2,0,2,4]}},"color":{"condition":{"test":"datum.f==1","value":"#e5493a"},"value":"#4a50db"}}},
{"data":{"name":"one"},"mark":{"type":"rule","color":"#bdbdbd","strokeWidth":1.2},"encoding":{"y":{"datum":-2.5}}},
{"data":{"name":"one"},"mark":{"type":"rule","color":"#333","strokeWidth":1},"encoding":{"y":{"datum":0}}},
{"data":{"name":"one"},"mark":{"type":"text","align":"right","baseline":"alphabetic","fontSize":16,"dx":-2},"encoding":{"x":{"datum":135,"type":"ordinal"},"y":{"datum":2.85},"text":{"value":"120 weeks"}}},
{"data":{"name":"one"},"mark":{"type":"text","align":"left","baseline":"middle","fontSize":14.5,"dx":12},"encoding":{"x":{"datum":1,"type":"ordinal"},"y":{"datum":-7.1},"text":{"value":"0/135 = 0%"}}},
{"data":{"values":[{"k":"No"},{"k":"Yes"}]},"mark":{"type":"point","filled":true,"opacity":0},"encoding":{"color":{"field":"k","type":"nominal","scale":{"domain":["No","Yes"],"range":["#4472c4","#ff0000"]},"legend":{"legendX":-13,"legendY":223,"padding":0,"title":"Incident vertebral fracture No","labelExpr":"datum.label == 'No' ? 'Yes' : ''"}}}}
]}
]}
]},
{"title":{"text":"b","fontSize":16,"dx":-29,"offset":19},"spacing":19,"resolve":{"scale":{"x":"independent","color":"independent"},"legend":{"color":"independent"}},
"vconcat":[
{"title":{"text":"TPTD-ALN group","offset":10},"spacing":52,"resolve":{"scale":{"x":"independent","color":"independent"},"legend":{"color":"independent"}},"hconcat":[
{"width":274,"height":205,"layer":[
{"data":{"name":"b1"},"mark":"bar","encoding":{"x":{"field":"i","type":"ordinal","axis":null,"scale":{"paddingInner":0.2,"paddingOuter":1.7}},"y":{"field":"v","type":"quantitative","scale":{"domain":[-8.1,4.1],"nice":false},"axis":{"title":"Total hip BMD (T-Score)","values":[-8,-6,-4,-2,0,2,4]}},"color":{"condition":{"test":"datum.f==1","value":"#e5493a"},"value":"#4a50db"}}},
{"data":{"name":"one"},"mark":{"type":"rule","color":"#bdbdbd","strokeWidth":1.2},"encoding":{"y":{"datum":-2.5}}},
{"data":{"name":"one"},"mark":{"type":"rule","color":"#333","strokeWidth":1},"encoding":{"y":{"datum":0}}},
{"data":{"name":"one"},"mark":{"type":"text","align":"right","baseline":"alphabetic","fontSize":16,"dx":-4},"encoding":{"x":{"datum":92,"type":"ordinal"},"y":{"datum":2.85},"text":{"value":"72 weeks"}}},
{"data":{"name":"one"},"mark":{"type":"text","align":"left","baseline":"middle","fontSize":14.5,"dx":13},"encoding":{"x":{"datum":1,"type":"ordinal"},"y":{"datum":-5.95},"text":{"value":"Incident vertebral fracture rate"}}},
{"data":{"name":"one"},"mark":{"type":"text","align":"left","baseline":"middle","fontSize":14.5,"dx":13},"encoding":{"x":{"datum":1,"type":"ordinal"},"y":{"datum":-7.0},"text":{"value":"14/92 = 15.2%"}}}
]},
{"width":269,"height":205,"layer":[
{"data":{"name":"b2"},"mark":"bar","encoding":{"x":{"field":"i","type":"ordinal","axis":null,"scale":{"paddingInner":0.2,"paddingOuter":1.2}},"y":{"field":"v","type":"quantitative","scale":{"domain":[-8.1,4.1],"nice":false},"axis":{"title":"Total hip BMD (T-Score)","values":[-8,-6,-4,-2,0,2,4]}},"color":{"condition":{"test":"datum.f==1","value":"#e5493a"},"value":"#4a50db"}}},
{"data":{"name":"one"},"mark":{"type":"rule","color":"#bdbdbd","strokeWidth":1.2},"encoding":{"y":{"datum":-2.5}}},
{"data":{"name":"one"},"mark":{"type":"rule","color":"#333","strokeWidth":1},"encoding":{"y":{"datum":0}}},
{"data":{"name":"one"},"mark":{"type":"text","align":"right","baseline":"alphabetic","fontSize":16,"dx":-2},"encoding":{"x":{"datum":74,"type":"ordinal"},"y":{"datum":2.85},"text":{"value":"120 weeks"}}},
{"data":{"name":"one"},"mark":{"type":"text","align":"left","baseline":"middle","fontSize":14.5,"dx":12},"encoding":{"x":{"datum":1,"type":"ordinal"},"y":{"datum":-7.1},"text":{"value":"13/74 = 17.6%"}}}
]}
]},
{"title":{"text":"ALN group","offset":13},"spacing":52,"resolve":{"scale":{"x":"independent","color":"independent"},"legend":{"color":"independent"}},"hconcat":[
{"width":274,"height":205,"layer":[
{"data":{"name":"b3"},"mark":"bar","encoding":{"x":{"field":"i","type":"ordinal","axis":null,"scale":{"paddingInner":0.2,"paddingOuter":2.6}},"y":{"field":"v","type":"quantitative","scale":{"domain":[-8.1,4.1],"nice":false},"axis":{"title":"Total hip BMD (T-Score)","values":[-8,-6,-4,-2,0,2,4]}},"color":{"condition":{"test":"datum.f==1","value":"#e5493a"},"value":"#4a50db"}}},
{"data":{"name":"one"},"mark":{"type":"rule","color":"#bdbdbd","strokeWidth":1.2},"encoding":{"y":{"datum":-2.5}}},
{"data":{"name":"one"},"mark":{"type":"rule","color":"#333","strokeWidth":1},"encoding":{"y":{"datum":0}}},
{"data":{"name":"one"},"mark":{"type":"text","align":"right","baseline":"alphabetic","fontSize":16,"dx":-4},"encoding":{"x":{"datum":139,"type":"ordinal"},"y":{"datum":2.85},"text":{"value":"72 weeks"}}},
{"data":{"name":"one"},"mark":{"type":"text","align":"left","baseline":"middle","fontSize":14.5,"dx":13},"encoding":{"x":{"datum":1,"type":"ordinal"},"y":{"datum":-7.1},"text":{"value":"31/139 = 22.3%"}}}
]},
{"width":269,"height":205,"layer":[
{"data":{"name":"b4"},"mark":"bar","encoding":{"x":{"field":"i","type":"ordinal","axis":null,"scale":{"paddingInner":0.2,"paddingOuter":1.3}},"y":{"field":"v","type":"quantitative","scale":{"domain":[-8.1,4.1],"nice":false},"axis":{"title":"Total hip BMD (T-Score)","values":[-8,-6,-4,-2,0,2,4]}},"color":{"condition":{"test":"datum.f==1","value":"#e5493a"},"value":"#4a50db"}}},
{"data":{"name":"one"},"mark":{"type":"rule","color":"#bdbdbd","strokeWidth":1.2},"encoding":{"y":{"datum":-2.5}}},
{"data":{"name":"one"},"mark":{"type":"rule","color":"#333","strokeWidth":1},"encoding":{"y":{"datum":0}}},
{"data":{"name":"one"},"mark":{"type":"text","align":"right","baseline":"alphabetic","fontSize":16,"dx":-2},"encoding":{"x":{"datum":115,"type":"ordinal"},"y":{"datum":2.85},"text":{"value":"120 weeks"}}},
{"data":{"name":"one"},"mark":{"type":"text","align":"left","baseline":"middle","fontSize":14.5,"dx":12},"encoding":{"x":{"datum":1,"type":"ordinal"},"y":{"datum":-7.1},"text":{"value":"26/115 = 22.6%"}}},
{"data":{"values":[{"k":"No"},{"k":"Yes"}]},"mark":{"type":"point","filled":true,"opacity":0},"encoding":{"color":{"field":"k","type":"nominal","scale":{"domain":["No","Yes"],"range":["#4472c4","#ff0000"]},"legend":{"legendX":-33,"legendY":204,"padding":20,"title":"Incident vertebral fracture No","labelExpr":"datum.label == 'No' ? 'Yes' : ''"}}}}
]}
]}
]},
{"title":{"text":"c","fontSize":16,"dx":-29,"offset":19},"spacing":17,"resolve":{"scale":{"x":"independent","color":"independent"},"legend":{"color":"independent"}},
"vconcat":[
{"title":{"text":"TPTD-ALN group","offset":9},"spacing":52,"resolve":{"scale":{"x":"independent","color":"independent"},"legend":{"color":"independent"}},"hconcat":[
{"width":274,"height":205,"layer":[
{"data":{"name":"c1"},"mark":"bar","encoding":{"x":{"field":"i","type":"ordinal","axis":null,"scale":{"paddingInner":0.2,"paddingOuter":2.4}},"y":{"field":"v","type":"quantitative","scale":{"domain":[-8.1,4.1],"nice":false},"axis":{"title":"Femoral neck BMD (T-Score)","values":[-8,-6,-4,-2,0,2,4]}},"color":{"condition":{"test":"datum.f==1","value":"#e5493a"},"value":"#4a50db"}}},
{"data":{"name":"one"},"mark":{"type":"rule","color":"#bdbdbd","strokeWidth":1.2},"encoding":{"y":{"datum":-2.5}}},
{"data":{"name":"one"},"mark":{"type":"rule","color":"#333","strokeWidth":1},"encoding":{"y":{"datum":0}}},
{"data":{"name":"one"},"mark":{"type":"text","align":"right","baseline":"alphabetic","fontSize":16,"dx":-4},"encoding":{"x":{"datum":125,"type":"ordinal"},"y":{"datum":2.85},"text":{"value":"72 weeks"}}},
{"data":{"name":"one"},"mark":{"type":"text","align":"left","baseline":"middle","fontSize":14.5,"dx":13},"encoding":{"x":{"datum":1,"type":"ordinal"},"y":{"datum":-5.95},"text":{"value":"Incident vertebral fracture rate"}}},
{"data":{"name":"one"},"mark":{"type":"text","align":"left","baseline":"middle","fontSize":14.5,"dx":13},"encoding":{"x":{"datum":1,"type":"ordinal"},"y":{"datum":-7.0},"text":{"value":"17/125 = 13.6%"}}}
]},
{"width":269,"height":205,"layer":[
{"data":{"name":"c2"},"mark":"bar","encoding":{"x":{"field":"i","type":"ordinal","axis":null,"scale":{"paddingInner":0.2,"paddingOuter":1.5}},"y":{"field":"v","type":"quantitative","scale":{"domain":[-8.1,4.1],"nice":false},"axis":{"title":"Femoral neck BMD (T-Score)","values":[-8,-6,-4,-2,0,2,4]}},"color":{"condition":{"test":"datum.f==1","value":"#e5493a"},"value":"#4a50db"}}},
{"data":{"name":"one"},"mark":{"type":"rule","color":"#bdbdbd","strokeWidth":1.2},"encoding":{"y":{"datum":-2.5}}},
{"data":{"name":"one"},"mark":{"type":"rule","color":"#333","strokeWidth":1},"encoding":{"y":{"datum":0}}},
{"data":{"name":"one"},"mark":{"type":"text","align":"right","baseline":"alphabetic","fontSize":16,"dx":-2},"encoding":{"x":{"datum":111,"type":"ordinal"},"y":{"datum":2.85},"text":{"value":"120 weeks"}}},
{"data":{"name":"one"},"mark":{"type":"text","align":"left","baseline":"middle","fontSize":14.5,"dx":12},"encoding":{"x":{"datum":1,"type":"ordinal"},"y":{"datum":-7.1},"text":{"value":"16/111 = 14.4%"}}}
]}
]},
{"title":{"text":"ALN group","offset":13},"spacing":52,"resolve":{"scale":{"x":"independent","color":"independent"},"legend":{"color":"independent"}},"hconcat":[
{"width":274,"height":205,"layer":[
{"data":{"name":"c3"},"mark":"bar","encoding":{"x":{"field":"i","type":"ordinal","axis":null,"scale":{"paddingInner":0.2,"paddingOuter":3.2}},"y":{"field":"v","type":"quantitative","scale":{"domain":[-8.1,4.1],"nice":false},"axis":{"title":"Femoral neck BMD (T-Score)","values":[-8,-6,-4,-2,0,2,4]}},"color":{"condition":{"test":"datum.f==1","value":"#e5493a"},"value":"#4a50db"}}},
{"data":{"name":"one"},"mark":{"type":"rule","color":"#bdbdbd","strokeWidth":1.2},"encoding":{"y":{"datum":-2.5}}},
{"data":{"name":"one"},"mark":{"type":"rule","color":"#333","strokeWidth":1},"encoding":{"y":{"datum":0}}},
{"data":{"name":"one"},"mark":{"type":"text","align":"right","baseline":"alphabetic","fontSize":16,"dx":-4},"encoding":{"x":{"datum":172,"type":"ordinal"},"y":{"datum":2.85},"text":{"value":"72 weeks"}}},
{"data":{"name":"one"},"mark":{"type":"text","align":"left","baseline":"middle","fontSize":14.5,"dx":13},"encoding":{"x":{"datum":1,"type":"ordinal"},"y":{"datum":-7.1},"text":{"value":"34/172 = 19.8%"}}}
]},
{"width":269,"height":205,"layer":[
{"data":{"name":"c4"},"mark":"bar","encoding":{"x":{"field":"i","type":"ordinal","axis":null,"scale":{"paddingInner":0.2,"paddingOuter":1.2}},"y":{"field":"v","type":"quantitative","scale":{"domain":[-8.1,4.1],"nice":false},"axis":{"title":"Femoral neck BMD (T-Score)","values":[-8,-6,-4,-2,0,2,4]}},"color":{"condition":{"test":"datum.f==1","value":"#e5493a"},"value":"#4a50db"}}},
{"data":{"name":"one"},"mark":{"type":"rule","color":"#bdbdbd","strokeWidth":1.2},"encoding":{"y":{"datum":-2.5}}},
{"data":{"name":"one"},"mark":{"type":"rule","color":"#333","strokeWidth":1},"encoding":{"y":{"datum":0}}},
{"data":{"name":"one"},"mark":{"type":"text","align":"right","baseline":"alphabetic","fontSize":16,"dx":-2},"encoding":{"x":{"datum":151,"type":"ordinal"},"y":{"datum":2.85},"text":{"value":"120 weeks"}}},
{"data":{"name":"one"},"mark":{"type":"text","align":"left","baseline":"middle","fontSize":14.5,"dx":12},"encoding":{"x":{"datum":1,"type":"ordinal"},"y":{"datum":-7.1},"text":{"value":"29/151 = 19.2%"}}},
{"data":{"values":[{"k":"No"},{"k":"Yes"}]},"mark":{"type":"point","filled":true,"opacity":0},"encoding":{"color":{"field":"k","type":"nominal","scale":{"domain":["No","Yes"],"range":["#4472c4","#ff0000"]},"legend":{"legendX":-13,"legendY":222,"padding":0,"title":"Incident vertebral fracture No","labelExpr":"datum.label == 'No' ? 'Yes' : ''"}}}}
]}
]}
]}
]
}
